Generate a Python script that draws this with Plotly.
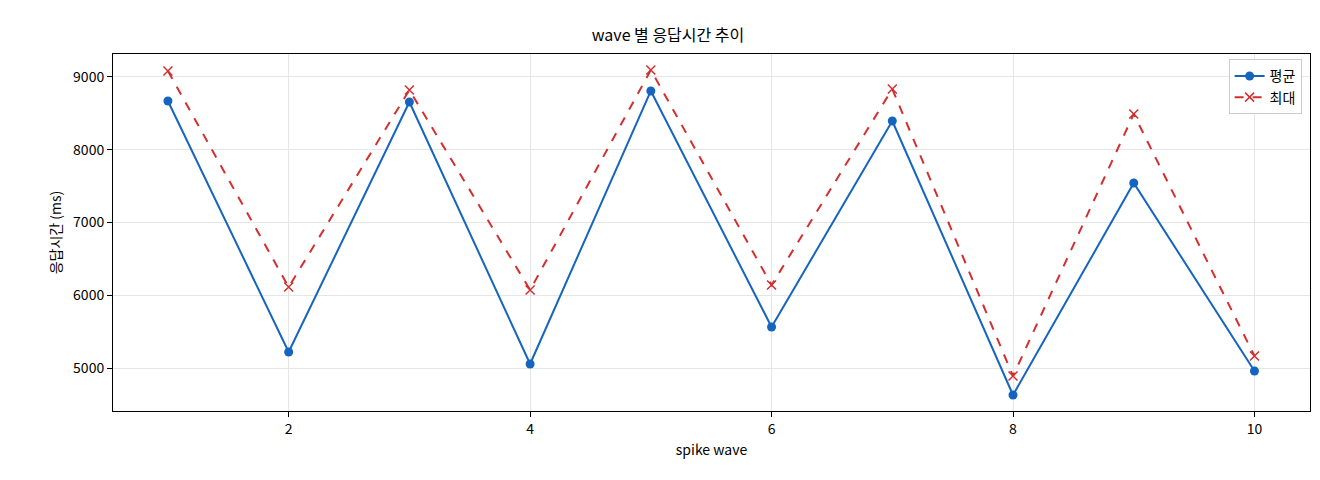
import plotly.graph_objects as go

waves = [1,2,3,4,5,6,7,8,9,10]
avg = [8670,5220,8656,5055,8808,5564,8395,4629,7543,4959]
mx = [9082,6113,8821,6072,9096,6140,8835,4890,8491,5165]

fig = go.Figure()
fig.add_trace(go.Scatter(x=waves, y=avg, name="평균", mode="lines+markers",
    line=dict(color="#1565c0", width=2), marker=dict(size=9, color="#1565c0")))
fig.add_trace(go.Scatter(x=waves, y=mx, name="최대", mode="lines+markers",
    line=dict(color="#d32f2f", width=2, dash="dash"), marker=dict(symbol="x-thin", size=9, line=dict(color="#d32f2f", width=1.5))))
ax = dict(showline=True, mirror=True, linecolor="black", linewidth=1, gridcolor="#e6e6e6",
          ticks="outside", tickcolor="black", zeroline=False, automargin=False, tickfont=dict(size=14))
fig.update_layout(
    width=1320, height=480, plot_bgcolor="white", paper_bgcolor="white",
    font=dict(family="Noto Sans CJK KR", size=14, color="black"),
    title=dict(text="wave 별 응답시간 추이", x=0.5, xanchor="center", y=0.955, font=dict(size=16), automargin=False),
    margin=dict(l=105, r=18, t=46, b=77, autoexpand=False),
    xaxis=dict(ax, range=[0.545,10.46], tickvals=[2,4,6,8,10], title=dict(text="spike wave", standoff=8, font=dict(size=14))),
    yaxis=dict(ax, range=[4409,9316], tickvals=[5000,6000,7000,8000,9000], title=dict(text="응답시간 (ms)", standoff=8, font=dict(size=14))),
    legend=dict(x=0.993, y=0.985, xanchor="right", yanchor="top", bordercolor="#cccccc", borderwidth=1, bgcolor="white"),
)
fig.write_html("out.html")
